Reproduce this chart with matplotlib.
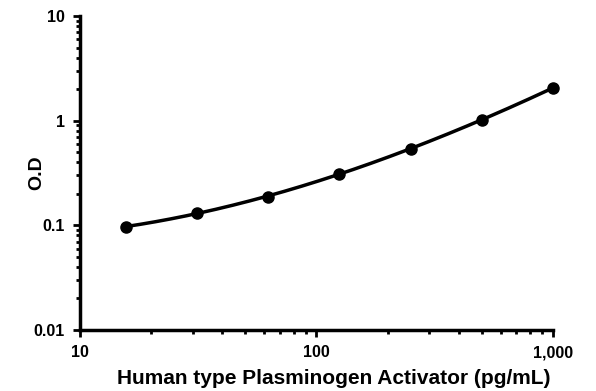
import numpy as np
import matplotlib
matplotlib.use("Agg")
import matplotlib.pyplot as plt
from matplotlib.ticker import FuncFormatter, LogLocator, NullFormatter

conc = [15.6, 31.25, 62.5, 125, 250, 500, 1000]
od = [0.097, 0.131, 0.188, 0.312, 0.54, 1.02, 2.06]
x_label = "Human type Plasminogen Activator (pg/mL)"
y_label = "O.D"

plt.rcParams['font.family'] = ['Liberation Sans', 'DejaVu Sans']
plt.rcParams['font.weight'] = 'bold'

fig = plt.figure(figsize=(5.96, 3.91), dpi=100)
ax = fig.add_axes([0.134, 0.156, 0.794, 0.803])

lx = np.log10(conc)
ly = np.log10(od)
coef = np.polyfit(lx, ly, 3)
xs = np.linspace(lx[0], lx[-1], 200)
ax.plot(10**xs, 10**np.polyval(coef, xs), color='black', lw=2.5, zorder=2, clip_on=False)
ax.plot(conc, od, 'o', color='black', ms=8, zorder=3, clip_on=False)

ax.set_xscale('log')
ax.set_yscale('log')
ax.set_xlim(10, 1000)
ax.set_ylim(0.01, 10)

for s in ['top', 'right']:
    ax.spines[s].set_visible(False)
for s in ['left', 'bottom']:
    ax.spines[s].set_linewidth(2.5)

ax.xaxis.set_major_locator(LogLocator(base=10, numticks=10))
ax.yaxis.set_major_locator(LogLocator(base=10, numticks=10))
ax.xaxis.set_minor_locator(LogLocator(base=10, subs=np.arange(2, 10), numticks=10))
ax.yaxis.set_minor_locator(LogLocator(base=10, subs=np.arange(2, 10), numticks=10))
ax.xaxis.set_minor_formatter(NullFormatter())
ax.yaxis.set_minor_formatter(NullFormatter())

def fmt(v, pos):
    if v >= 1:
        return f"{int(round(v)):,}"
    return f"{v:g}"

ax.xaxis.set_major_formatter(FuncFormatter(fmt))
ax.yaxis.set_major_formatter(FuncFormatter(fmt))
ax.tick_params(which='major', direction='out', length=5, width=2, labelsize=11.5, pad=6)
ax.tick_params(which='minor', direction='out', length=3, width=2)

ax.set_xlabel(x_label, fontsize=15, fontweight='bold')
ax.set_ylabel(y_label, fontsize=14, fontweight='bold')
ax.xaxis.set_label_coords(0.537, -0.125)
ax.yaxis.set_label_coords(-0.074, 0.5)

fig.savefig("out.png", dpi=100)
